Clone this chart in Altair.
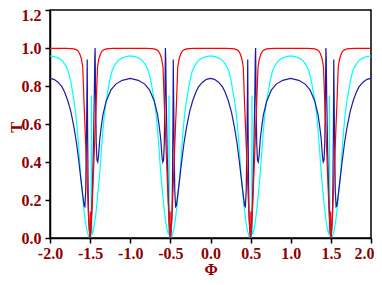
import altair as alt
import pandas as pd

cyan_phi = [0.00, 0.05, 0.10, 0.15, 0.20, 0.23, 0.26, 0.28, 0.30, 0.32, 0.34, 0.35, 0.36, 0.37,
            0.38, 0.40, 0.42, 0.44, 0.46, 0.48, 0.50, 0.51, 0.513, 0.517, 0.521, 0.525, 0.54,
            0.56, 0.58, 0.60, 0.62, 0.63, 0.64, 0.65, 0.66, 0.68, 0.70, 0.72, 0.74, 0.77, 0.80,
            0.85, 0.90, 0.95, 1.00]
cyan_T = [0.958, 0.955, 0.948, 0.935, 0.905, 0.875, 0.82, 0.77, 0.72, 0.66, 0.57, 0.515, 0.46, 0.40,
          0.34, 0.25, 0.16, 0.09, 0.04, 0.01, 0.0, 0.01, 0.02, 0.75, 0.03, 0.02, 0.04,
          0.09, 0.16, 0.25, 0.34, 0.40, 0.46, 0.515, 0.57, 0.66, 0.72, 0.77, 0.82, 0.875, 0.905,
          0.935, 0.948, 0.955, 0.958]

blue_phi = [0.00, 0.05, 0.10, 0.15, 0.18, 0.22, 0.26, 0.30, 0.33, 0.36, 0.39, 0.41, 0.425, 0.435,
            0.445, 0.455, 0.464, 0.468, 0.474, 0.48, 0.49, 0.50, 0.51, 0.525, 0.54, 0.552, 0.558,
            0.562, 0.568, 0.576, 0.585, 0.595, 0.605, 0.62, 0.64, 0.66, 0.70, 0.76, 0.82, 0.90, 1.00]
blue_T = [0.84, 0.835, 0.82, 0.795, 0.77, 0.725, 0.665, 0.58, 0.50, 0.40, 0.29, 0.22, 0.17, 0.165,
          0.25, 0.55, 0.94, 0.6, 0.3, 0.12, 0.04, 0.0, 0.05, 0.2, 0.45, 0.75, 0.95,
          1.0, 0.75, 0.5, 0.41, 0.40, 0.43, 0.52, 0.59, 0.65, 0.72, 0.78, 0.81, 0.83, 0.84]

red_phi = [0.00, 0.10, 0.20, 0.26, 0.30, 0.33, 0.35, 0.37, 0.39, 0.40, 0.408, 0.415, 0.425, 0.435,
           0.444, 0.455, 0.465, 0.475, 0.485, 0.494, 0.50, 0.503, 0.506, 0.515, 0.525, 0.535,
           0.545, 0.556, 0.565, 0.575, 0.585, 0.592, 0.60, 0.61, 0.63, 0.65, 0.67, 0.70, 0.74,
           0.80, 0.90, 1.00]
red_T = [0.998, 0.998, 0.998, 0.997, 0.995, 0.99, 0.985, 0.97, 0.945, 0.92, 0.90, 0.82, 0.70, 0.60,
         0.50, 0.38, 0.27, 0.17, 0.08, 0.02, 0.0, 0.14, 0.02, 0.08, 0.17, 0.27,
         0.38, 0.50, 0.60, 0.70, 0.82, 0.90, 0.92, 0.945, 0.97, 0.985, 0.99, 0.995, 0.997,
         0.998, 0.998, 0.998]

x_ticks = [-2.0, -1.5, -1.0, -0.5, 0.0, 0.5, 1.0, 1.5, 2.0]
y_ticks = [0.0, 0.2, 0.4, 0.6, 0.8, 1.0, 1.2]

LABEL = "#8B0000"
FONT = "Liberation Serif"


def full_range(phi, vals, name):
    pts = {}
    for p, v in zip(phi, vals):
        for q in (p, -p, 2 - p, p - 2):
            if -2.0 <= q <= 2.0:
                pts[round(q, 4)] = v
    xs = sorted(pts)
    return pd.DataFrame({"phi": xs, "T": [pts[x] for x in xs], "s": name})


df_c = full_range(cyan_phi, cyan_T, "cyan")
df_b = full_range(blue_phi, blue_T, "blue")
df_r = full_range(red_phi, red_T, "red")

W, H = 321, 228
xs = alt.Scale(domain=[-2, 2], nice=False)
ys = alt.Scale(domain=[0, 1.2], nice=False)

fmt = "datum.value < 0 ? '-' + format(-datum.value, '.1f') : format(datum.value, '.1f')"

xaxis = alt.Axis(values=x_ticks, labelExpr=fmt, title="Φ", grid=False,
                 tickSize=5, labelPadding=2, labelFlush=False, labelOverlap=False,
                 labelOffset={"condition": {"test": "datum.value >= 2", "value": -7}, "value": 0},
                 titleX=W / 2, titleY=31, titleBaseline="middle", titleAlign="center",
                 titleFontSize=16)
yaxis = alt.Axis(values=y_ticks, labelExpr=fmt, title="T", grid=False,
                 tickSize=5, labelPadding=4, labelFlush=False, labelOverlap=False,
                 labelOffset={"condition": {"test": "datum.value >= 1.2", "value": 5}, "value": 0},
                 titleX=-33.5, titleY=H / 2 + 3, titleBaseline="middle", titleAlign="center",
                 titleAngle=270, titleFontSize=16)


def line(df, color):
    return alt.Chart(df).mark_line(color=color, strokeWidth=1.2, clip=True).encode(
        x=alt.X("phi:Q", scale=xs, axis=xaxis),
        y=alt.Y("T:Q", scale=ys, axis=yaxis),
    )


chart = alt.layer(
    line(df_c, "#00FFFF"),
    line(df_b, "#1C1CA0"),
    line(df_r, "#FF0000"),
).properties(
    width=W, height=H,
    autosize=alt.AutoSizeParams(type="none"),
    padding={"left": 42, "top": 2, "right": 3, "bottom": 39},
).configure_view(
    stroke="black", strokeWidth=1.5
).configure_axis(
    domainColor="black", domainWidth=1.5, tickColor="black", tickWidth=1.5,
    labelColor=LABEL, labelFont=FONT, labelFontSize=16, labelFontWeight="bold",
    titleColor=LABEL, titleFont=FONT, titleFontSize=17, titleFontWeight="bold",
)

chart.save("out.html", embed_options={"renderer": "svg", "actions": False})
